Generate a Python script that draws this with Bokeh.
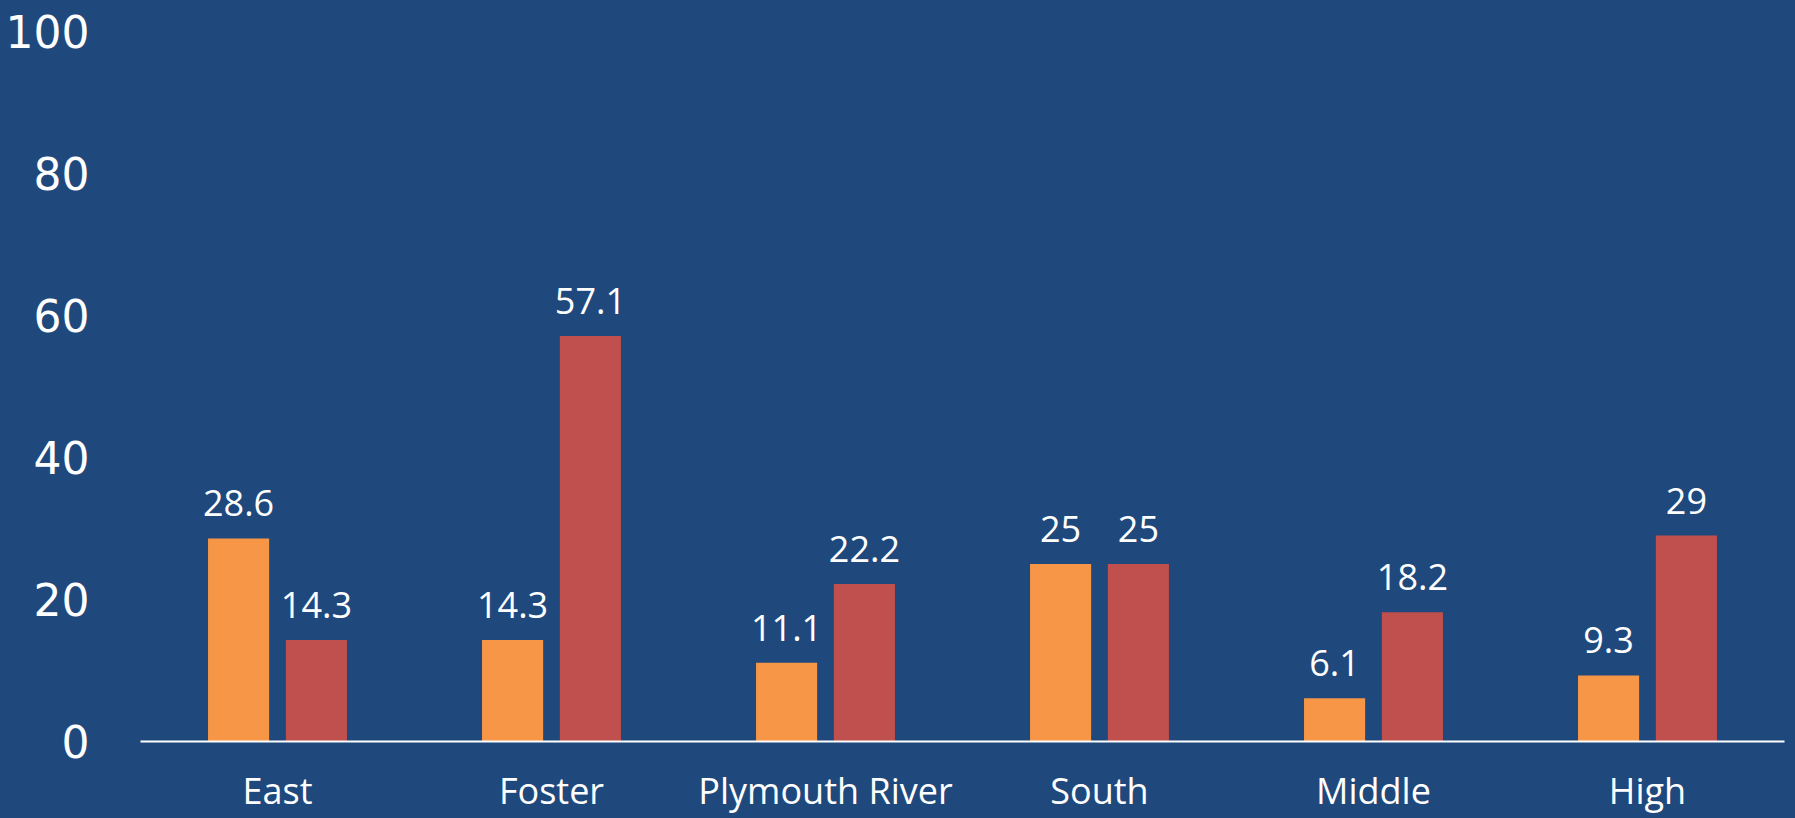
from bokeh.plotting import figure
from bokeh.models import ColumnDataSource, FactorRange, Range1d, FixedTicker, LabelSet
from bokeh.core.properties import value
from bokeh.transform import dodge
from bokeh.embed import file_html
from bokeh.resources import INLINE

schools = ["East", "Foster", "Plymouth River", "South", "Middle", "High"]
series_a = [28.6, 14.3, 11.1, 25, 6.1, 9.3]
series_b = [14.3, 57.1, 22.2, 25, 18.2, 29]
labels_a = ["28.6", "14.3", "11.1", "25", "6.1", "9.3"]
labels_b = ["14.3", "57.1", "22.2", "25", "18.2", "29"]
y_ticks = [0, 20, 40, 60, 80, 100]

BG = "#1F497D"
ORANGE = "#F79646"
RED = "#C0504D"

src = ColumnDataSource(dict(x=schools, a=series_a, b=series_b, la=labels_a, lb=labels_b))

p = figure(x_range=FactorRange(*schools, range_padding=0), y_range=Range1d(0, 100),
           width=1795, height=818, output_backend="svg", toolbar_location=None,
           background_fill_color=BG, border_fill_color=BG, outline_line_color=None,
           min_border_left=140, min_border_right=11, min_border_top=31, min_border_bottom=77)

p.vbar(x=dodge("x", -0.142, range=p.x_range), top="a", width=0.223, source=src,
       fill_color=ORANGE, line_color=None)
p.vbar(x=dodge("x", 0.142, range=p.x_range), top="b", width=0.223, source=src,
       fill_color=RED, line_color=None)

for col, lab, off in (("a", "la", -0.142), ("b", "lb", 0.142)):
    ls = LabelSet(x=dodge("x", off, range=p.x_range), y=col, text=lab, source=src,
                  text_align="center", text_baseline="middle", y_offset=35,
                  text_color="white", text_font=value("Open Sans"), text_font_size="36px")
    p.add_layout(ls)

p.xgrid.grid_line_color = None
p.ygrid.grid_line_color = None

p.yaxis.ticker = FixedTicker(ticks=y_ticks)
p.yaxis.axis_line_color = None
p.yaxis.major_tick_line_color = None
p.yaxis.minor_tick_line_color = None
p.yaxis.major_tick_out = 0
p.yaxis.major_label_standoff = 51
p.yaxis.major_label_text_color = "white"
p.yaxis.major_label_text_font = "DejaVu Sans"
p.yaxis.major_label_text_font_size = "44px"

p.xaxis.axis_line_color = "white"
p.xaxis.axis_line_width = 2
p.xaxis.major_tick_line_color = None
p.xaxis.minor_tick_line_color = None
p.xaxis.major_tick_out = 0
p.xaxis.major_label_standoff = 24
p.xaxis.major_label_text_color = "white"
p.xaxis.major_label_text_font = "Open Sans"
p.xaxis.major_label_text_font_size = "36px"

html = file_html(p, INLINE)
html = html.replace("<head>", "<head><style>html, body { background-color: #1F497D; }</style>", 1)
open("out.html", "w").write(html)
